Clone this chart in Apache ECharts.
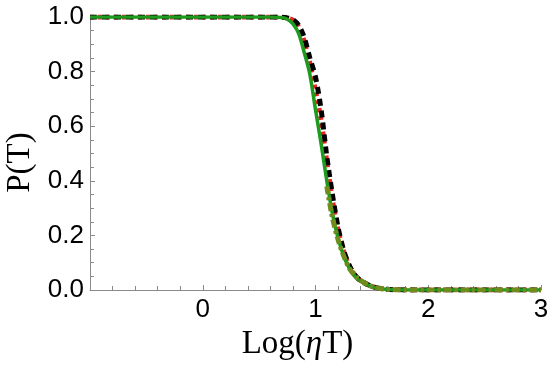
<!DOCTYPE html>
<html><head><meta charset="utf-8">
<script src="https://cdn.jsdelivr.net/npm/echarts@6/dist/echarts.min.js"></script>
<style>html,body{margin:0;padding:0;background:#fff}#c{width:550px;height:367px}</style>
</head><body><div id="c"></div>
<script>
const xs = [-1, 0.6, 0.7, 0.75, 0.8, 0.85, 0.9, 0.95, 1.0, 1.05, 1.1, 1.15, 1.2, 1.25, 1.3, 1.35, 1.4, 1.5, 1.6, 1.7, 2.0, 2.5, 3.0];
const greenP = [1, 1, 0.998, 0.992, 0.975, 0.94, 0.87, 0.79, 0.66, 0.535, 0.40, 0.28, 0.19, 0.125, 0.08, 0.05, 0.032, 0.012, 0.004, 0.001, 0, 0, 0];
const blackP = [1, 1, 0.999, 0.997, 0.99, 0.97, 0.925, 0.85, 0.78, 0.66, 0.49, 0.35, 0.23, 0.145, 0.09, 0.055, 0.035, 0.013, 0.004, 0.001, 0, 0, 0];
const redP   = [1, 1, 0.999, 0.996, 0.988, 0.965, 0.91, 0.83, 0.73, 0.62, 0.47, 0.33, 0.22, 0.14, 0.088, 0.054, 0.034, 0.013, 0.004, 0.001, 0, 0, 0];
const oliveX = [1.1, 1.15, 1.2, 1.25, 1.3, 1.35, 1.4, 1.5, 1.6, 1.7, 2.0, 2.5, 3.0];
const oliveP = [0.38, 0.265, 0.185, 0.125, 0.08, 0.053, 0.035, 0.013, 0.004, 0.001, 0, 0, 0];
const xTicks = [0, 1, 2, 3];
const yTicks = [0, 0.2, 0.4, 0.6, 0.8, 1.0];

const pair = (x, y) => x.map((v, i) => [v, y[i]]);
const chart = echarts.init(document.getElementById('c'), null, {renderer: 'canvas'});
const axisCol = '#8a8a8a';
chart.setOption({
  animation: false,
  grid: {left: 90, right: 9, top: 17, bottom: 77, containLabel: false, outerBoundsMode: 'none'},
  xAxis: {
    type: 'value', min: -1, max: 3, interval: 1,
    name: 'Log({i|η}T)',
    nameLocation: 'middle', nameGap: 33,
    nameTextStyle: {fontFamily: 'Liberation Serif', fontSize: 33, color: '#000',
      padding: [0, 36, 0, 0],
      rich: {i: {fontFamily: 'Liberation Serif', fontStyle: 'italic', fontSize: 33, color: '#000'}}},
    axisLine: {onZero: false, lineStyle: {color: axisCol, width: 1}},
    axisTick: {inside: true, length: 5, lineStyle: {color: axisCol}},
    minorTick: {show: true, splitNumber: 5, length: 4, lineStyle: {color: axisCol}},
    splitLine: {show: false},
    axisLabel: {fontFamily: 'Liberation Sans', fontSize: 26, color: '#000', margin: 7,
      formatter: v => xTicks.includes(v) ? String(v) : ''}
  },
  yAxis: {
    type: 'value', min: 0, max: 1, interval: 0.2,
    name: 'P(T)',
    nameLocation: 'middle', nameGap: 52,
    nameTextStyle: {fontFamily: 'Liberation Serif', fontSize: 33, color: '#000',
      padding: [0, 18, 0, 0]},
    axisLine: {show: true, onZero: false, lineStyle: {color: axisCol, width: 1}},
    axisTick: {show: true, inside: true, length: 5, lineStyle: {color: axisCol}},
    minorTick: {show: true, splitNumber: 4, length: 4, lineStyle: {color: axisCol}},
    splitLine: {show: false},
    axisLabel: {fontFamily: 'Liberation Sans', fontSize: 26, color: '#000', margin: 6,
      formatter: v => yTicks.some(t => Math.abs(t - v) < 1e-9) ? v.toFixed(1) : ''}
  },
  series: [
    {type: 'line', data: pair(xs, redP), smooth: 0.3, showSymbol: false, z: 1,
      lineStyle: {color: '#e8231e', width: 5, type: [4, 4]}},
    {type: 'line', data: pair(xs, blackP), smooth: 0.3, showSymbol: false, z: 2,
      lineStyle: {color: '#000', width: 5, type: [7, 5]}},
    {type: 'line', data: pair(xs, greenP), smooth: 0.3, showSymbol: false, z: 3,
      lineStyle: {color: '#1e9a1e', width: 3.5}},
    {type: 'line', data: pair(oliveX, oliveP), smooth: 0.3, showSymbol: false, z: 4,
      lineStyle: {color: '#6f8c1c', width: 5, type: [8, 3, 3, 3]}}
  ]
});
</script></body></html>
